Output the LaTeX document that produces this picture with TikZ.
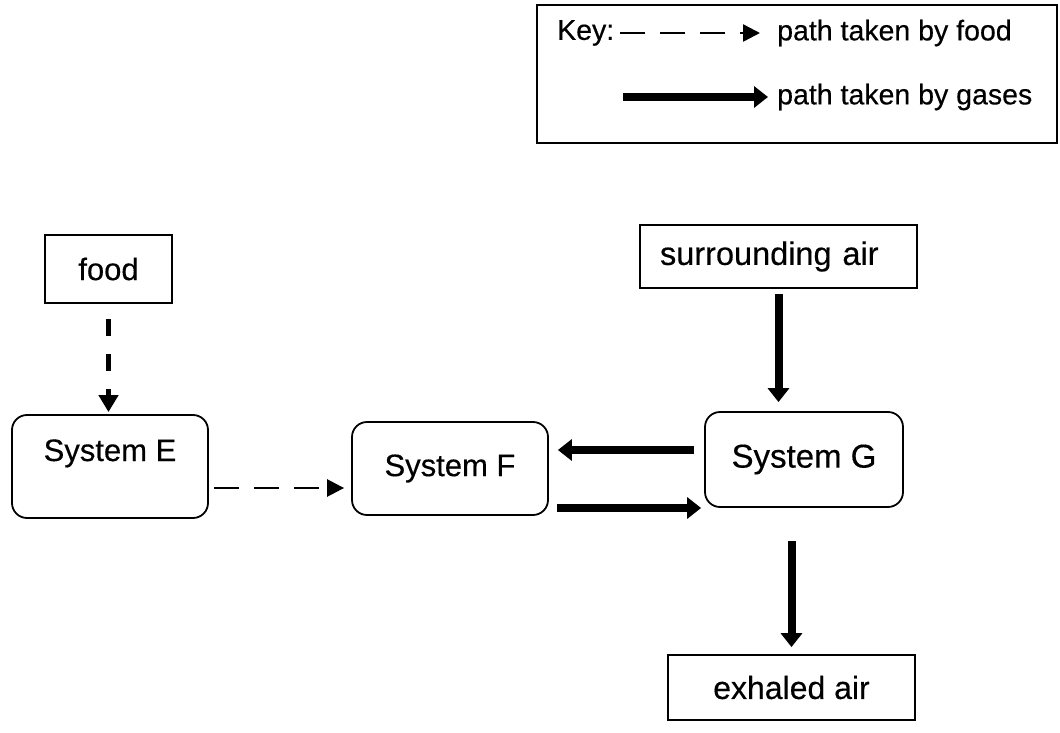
\documentclass[tikz,border=0pt]{standalone}
\usepackage{fontspec}
\setmainfont{Liberation Sans}[FakeBold=0.4]
\usetikzlibrary{arrows.meta,positioning}

\begin{document}
\begin{tikzpicture}[x = 1pt, y = -1pt,
        every node/.style = {font = \fontsize{31}{36}\selectfont},
        plainbox/.style = {draw, line width = 1.8pt, inner sep = 0pt},
        sysbox/.style = {plainbox, rounded corners = 15pt, minimum width = 196pt},
        keytext/.style = {font = \fontsize{28.5}{34}\selectfont, inner sep = 0pt, anchor = west},
        foodline/.style = {line width = 2.5pt, dash pattern = on 25pt off 15pt,
            -{Triangle[length = 17pt, width = 17pt]}},
        foodthick/.style = {line width = 4.5pt, dash pattern = on 17pt off 18pt,
            -{Triangle[length = 17pt, width = 19pt]}},
        gasline/.style = {line width = 8pt, -{Triangle[length = 14pt, width = 21pt]}}]
        \useasboundingbox (0, 0) rectangle (1060, 733);

        % key
        \node[plainbox, line width = 1.5pt, minimum width = 520pt, minimum height = 138pt] (key) at (797, 74) {};
        \node[keytext] (keylbl) at (557, 33) {Key:};
        \node[keytext] (foodtxt) at (777, 33) {path taken by food};
        \node[keytext] (gastxt) at (777, 97) {path taken by gases};
        \coordinate (gasstart) at (623, 97);
        \draw[foodline, shorten <= 6pt, shorten >= 17pt] (keylbl.east) -- (foodtxt.west);
        \draw[gasline, shorten >= 9pt] (gasstart) -- (gastxt.west);

        % boxes
        \node[plainbox, minimum width = 127pt, minimum height = 68pt] (food) at (108.5, 269) {food};
        \node[sysbox, minimum height = 103pt, text height = 22pt, text depth = 33pt] (sysE) at (110, 466.5) {System E};
        \node[sysbox, minimum height = 93pt] (sysF) at (450, 468.5) {System F};
        \node[sysbox, minimum width = 198pt, minimum height = 95pt, font = \fontsize{33}{38}\selectfont] (sysG) at (804, 459.5) {System G};
        \node[plainbox, minimum height = 63pt, text width = 237pt, align = left, inner xsep = 20pt,
            font = \fontsize{32.5}{38}\selectfont] (air) at (778.5, 256.5) {surrounding air};
        \node[plainbox, minimum width = 247pt, minimum height = 65pt, font = \fontsize{32}{38}\selectfont] (exh) at (791.5, 687.5) {exhaled air};

        % food path
        \draw[foodthick, shorten <= 15pt, shorten >= 2pt] (food.south) -- (food.south |- sysE.north);
        \coordinate (ef) at ([yshift = -21.5pt] sysE.east);
        \draw[foodline, shorten <= 5pt, shorten >= 7pt] (ef) -- (ef -| sysF.west);

        % gas path
        \coordinate (gf) at ([yshift = 9.5pt] sysG.west);
        \draw[gasline, shorten <= 10pt, shorten >= 9pt] (gf) -- (gf -| sysF.east);
        \coordinate (fg) at ([yshift = -39.5pt] sysF.east);
        \draw[gasline, shorten <= 8pt, shorten >= 3pt] (fg) -- (fg -| sysG.west);
        \draw[gasline, shorten <= 5pt, shorten >= 9pt] (air.south) -- (air.south |- sysG.north);
        \draw[gasline, shorten <= 33pt, shorten >= 7pt] (sysG.south -| exh.north) -- (exh.north);
    \end{tikzpicture}
\end{document}
